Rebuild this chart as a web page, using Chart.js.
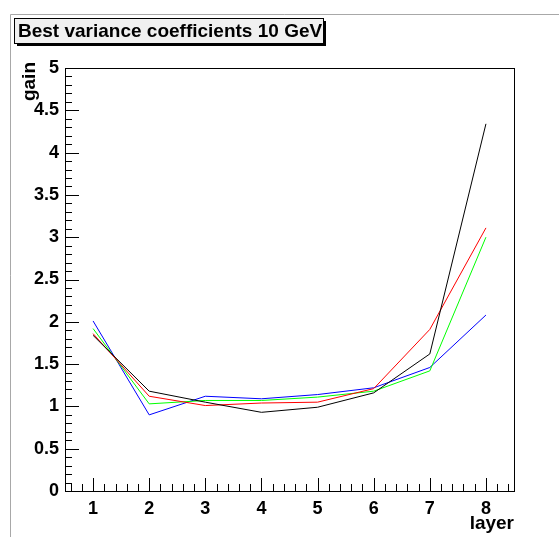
<!DOCTYPE html>
<html>
<head>
<meta charset="utf-8">
<title>Best variance coefficients 10 GeV</title>
<script src="https://cdn.jsdelivr.net/npm/chart.js@4.4.1/dist/chart.umd.min.js"></script>
<style>
  html, body { margin: 0; padding: 0; background: #fff; }
  canvas { display: block; }
</style>
</head>
<body>
<canvas id="gainChart" width="559" height="537"></canvas>
<script>
// gain per layer, one curve per fit
const layers = [1, 2, 3, 4, 5, 6, 7, 8];
const gainBlack = [1.84, 1.18, 1.05, 0.93, 0.99, 1.16, 1.62, 4.34];
const gainRed   = [1.86, 1.12, 1.01, 1.04, 1.05, 1.21, 1.91, 3.11];
const gainGreen = [1.92, 1.03, 1.07, 1.07, 1.11, 1.18, 1.42, 3.00];
const gainBlue  = [2.01, 0.90, 1.12, 1.09, 1.14, 1.22, 1.46, 2.08];

const xTicks = [1, 2, 3, 4, 5, 6, 7, 8];
const yTicks = [0, 0.5, 1, 1.5, 2, 2.5, 3, 3.5, 4, 4.5, 5];

const titleText = "Best variance coefficients 10 GeV";
const xTitle = "layer";
const yTitle = "gain";

const FONT = "'Liberation Sans', Arial, Helvetica, sans-serif";

function series(values, color) {
    return {
        data: layers.map((x, i) => ({ x: x, y: values[i] })),
        borderColor: color,
        borderWidth: 1,
        pointRadius: 0,
        fill: false,
        tension: 0
    };
}

// ROOT-like frame: box, inward ticks, pad border, title box, axis titles
const rootFrame = {
    id: "rootFrame",
    beforeDraw(chart) {
        const ctx = chart.ctx;
        ctx.save();
        ctx.fillStyle = "#fff";
        ctx.fillRect(0, 0, chart.width, chart.height);
        // pad border
        ctx.strokeStyle = "#a8a8a8";
        ctx.lineWidth = 1;
        ctx.beginPath();
        ctx.moveTo(10.5, chart.height);
        ctx.lineTo(10.5, 14.5);
        ctx.lineTo(chart.width, 14.5);
        ctx.stroke();
        ctx.restore();
    },
    afterDraw(chart) {
        const ctx = chart.ctx;
        const a = chart.chartArea;
        const xs = chart.scales.x;
        const ys = chart.scales.y;
        ctx.save();
        ctx.strokeStyle = "#000";
        ctx.lineWidth = 1;

        // frame
        ctx.strokeRect(Math.round(a.left) + 0.5, Math.round(a.top) + 0.5,
                       Math.round(a.right - a.left), Math.round(a.bottom - a.top));

        // x ticks: major at integers, minor every 0.2
        ctx.beginPath();
        for (let i = 3; i <= 42; i++) {
            const v = i / 5;
            const px = Math.round(xs.getPixelForValue(v)) + 0.5;
            const len = (i % 5 === 0) ? 13 : 7;
            ctx.moveTo(px, a.bottom);
            ctx.lineTo(px, a.bottom - len);
        }
        // y ticks: major every 0.5, minor every 0.1
        for (let i = 0; i <= 50; i++) {
            const v = i / 10;
            const py = Math.round(ys.getPixelForValue(v)) + 0.5;
            const len = (i % 5 === 0) ? 14 : 7;
            ctx.moveTo(a.left, py);
            ctx.lineTo(a.left + len, py);
        }
        ctx.stroke();

        // axis titles
        ctx.fillStyle = "#000";
        ctx.font = "bold 19px " + FONT;
        ctx.textAlign = "right";
        ctx.textBaseline = "alphabetic";
        ctx.fillText(xTitle, a.right, 529);

        ctx.save();
        ctx.translate(35, a.top - 6);
        ctx.rotate(-Math.PI / 2);
        ctx.textAlign = "right";
        ctx.fillText(yTitle, 0, 0);
        ctx.restore();

        // title box with shadow
        const bx = 14, by = 18, bw = 309, bh = 25;
        ctx.fillStyle = "#000";
        ctx.fillRect(bx + 3, by + 3, bw, bh);
        ctx.fillStyle = "#f0f0f0";
        ctx.fillRect(bx, by, bw, bh);
        ctx.strokeRect(bx + 0.5, by + 0.5, bw, bh);
        ctx.fillStyle = "#000";
        ctx.font = "bold 19px " + FONT;
        ctx.textAlign = "left";
        ctx.textBaseline = "middle";
        ctx.fillText(titleText, bx + 4, by + bh / 2 + 1);
        ctx.restore();
    }
};

new Chart(document.getElementById("gainChart"), {
    type: "line",
    data: {
        datasets: [
            series(gainBlack, "#000000"),
            series(gainRed, "#ff0000"),
            series(gainGreen, "#00ff00"),
            series(gainBlue, "#0000ff")
        ]
    },
    options: {
        responsive: false,
        animation: false,
        devicePixelRatio: 1,
        layout: { padding: { left: 0, top: 68, right: 45, bottom: 0 } },
        plugins: {
            legend: { display: false },
            tooltip: { enabled: false }
        },
        scales: {
            x: {
                type: "linear",
                min: 0.5,
                max: 8.5,
                afterBuildTicks(scale) {
                    scale.ticks = xTicks.map(v => ({ value: v }));
                },
                afterFit(scale) { scale.height = 46; },
                grid: { display: false, drawTicks: false },
                border: { display: false },
                ticks: {
                    color: "#000",
                    padding: 7,
                    maxRotation: 0,
                    autoSkip: false,
                    callback: v => String(v),
                    font: { family: FONT, size: 18, weight: "bold" }
                }
            },
            y: {
                min: 0,
                max: 5,
                afterBuildTicks(scale) {
                    scale.ticks = yTicks.map(v => ({ value: v }));
                },
                afterFit(scale) { scale.width = 65; },
                grid: { display: false, drawTicks: false },
                border: { display: false },
                ticks: {
                    color: "#000",
                    padding: 6,
                    autoSkip: false,
                    callback: v => String(v),
                    font: { family: FONT, size: 18, weight: "bold" }
                }
            }
        }
    },
    plugins: [rootFrame]
});
</script>
</body>
</html>
